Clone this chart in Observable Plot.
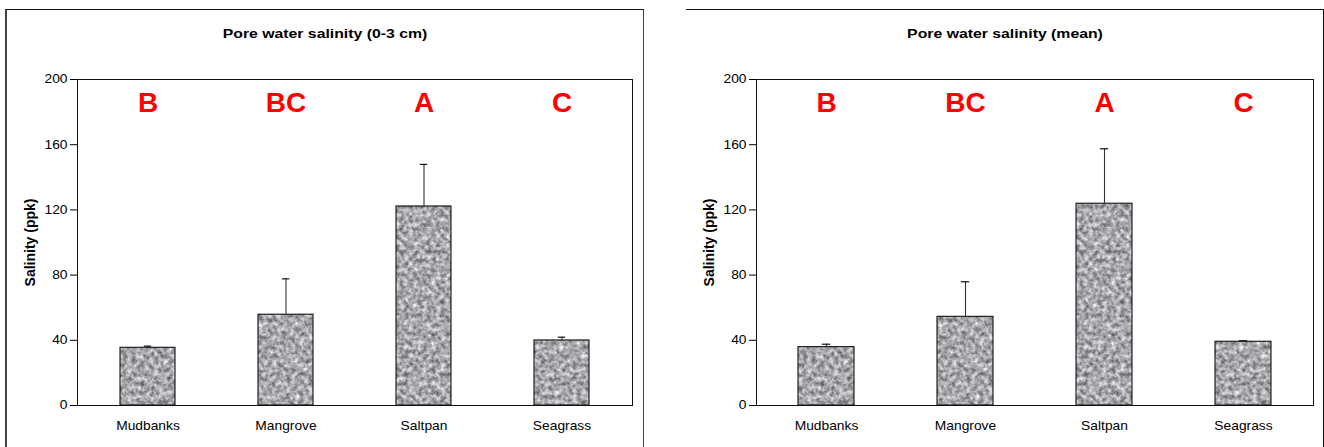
<!DOCTYPE html>
<html>
<head>
<meta charset="utf-8">
<script src="https://cdn.jsdelivr.net/npm/d3@7"></script>
<script src="https://cdn.jsdelivr.net/npm/@observablehq/plot@0.6"></script>
<style>
  html, body { margin: 0; padding: 0; background: #fff; }
  #page { position: relative; width: 1324px; height: 447px; overflow: hidden; background: #fff; font-family: "Liberation Sans", Arial, sans-serif; }
  .panel { position: absolute; top: 9px; height: 520px; box-sizing: border-box; }
  #panelL { left: 5px; width: 638.5px; border-top: 1.5px solid #111; border-left: 2px solid #444; border-right: 1.5px solid #444; }
  #panelR { left: 686px; width: 637.5px; border-top: 1.5px solid #111; border-right: 1.5px solid #111; }
  .title { position: absolute; width: 400px; text-align: center; font-weight: bold; font-size: 13.5px; line-height: 16px; color: #000; transform: scaleX(1.17); transform-origin: center; top: 26px; }
  .chart { position: absolute; top: 0; }
</style>
</head>
<body>
<svg width="0" height="0" style="position:absolute">
  <defs>
    <filter id="noiseF" filterUnits="userSpaceOnUse" x="0" y="0" width="700" height="450" color-interpolation-filters="sRGB">
      <feTurbulence type="fractalNoise" baseFrequency="0.22" numOctaves="3" seed="7"/>
      <feColorMatrix type="matrix" values="0.85 0 0 0 0.23  0.85 0 0 0 0.23  0.85 0 0 0 0.25  0 0 0 0 1"/>
    </filter>
    <pattern id="tex" patternUnits="userSpaceOnUse" x="0" y="0" width="700" height="450">
      <rect width="700" height="450" fill="#a5a5a8" filter="url(#noiseF)"/>
    </pattern>
  </defs>
</svg>
<div id="page">
  <div class="panel" id="panelL"></div>
  <div class="panel" id="panelR"></div>
  <div class="title" id="titleL" style="left:124.7px">Pore water salinity (0-3 cm)</div>
  <div class="title" id="titleR" style="left:804.5px">Pore water salinity (mean)</div>
  <div class="chart" id="chartL" style="left:0px"></div>
  <div class="chart" id="chartR" style="left:680px"></div>
</div>
<script>
const sites = ["Mudbanks", "Mangrove", "Saltpan", "Seagrass"];
const letters = ["B", "BC", "A", "C"];
const surfaceMean = [35.4, 55.7, 122.1, 39.9];
const surfaceErr = [1.0, 22.0, 25.8, 2.0];
const meanMean = [35.8, 54.4, 123.8, 39.1];
const meanErr = [1.8, 21.5, 33.7, 0.6];
const yTicks = [0, 40, 80, 120, 160, 200];
const yLabel = ["Salinity (ppk)"];

function panel(means, errs, width, marginLeft, marginRight) {
  const data = sites.map((s, i) => ({site: s, letter: letters[i], mean: means[i], top: means[i] + errs[i]}));
  const svg = Plot.plot({
    width, height: 447,
    marginLeft, marginRight, marginTop: 79, marginBottom: 42,
    style: {background: "transparent", fontFamily: "'Liberation Sans', Arial, sans-serif", fontSize: "12px", color: "#000", overflow: "visible"},
    x: {domain: sites, paddingInner: 0.6, paddingOuter: 0.3, label: null, tickSize: 0, tickPadding: 15.5},
    y: {domain: [0, 200], ticks: yTicks, tickSize: 7, tickPadding: 3, label: null},
    marks: [
      Plot.barY(data, {x: "site", y: "mean", fill: "url(#tex)", stroke: "#111", strokeWidth: 1.1}),
      Plot.ruleX(data, {x: "site", y1: "mean", y2: "top", stroke: "#333", strokeWidth: 1.1}),
      Plot.tickY(data, {x: "site", y: "top", stroke: "#111", strokeWidth: 1.2, insetLeft: 23.8, insetRight: 23.8}),
      Plot.text(data, {x: "site", text: "letter", frameAnchor: "top", lineAnchor: "middle", dy: 23.5, fill: "#ff0000", fontSize: 28, fontWeight: "bold", fontFamily: "'Liberation Sans', Arial, sans-serif"}),
      Plot.text(yLabel, {text: d => d, frameAnchor: "left", textAnchor: "middle", lineAnchor: "middle", rotate: -90, dx: -47, fontWeight: "bold", fontSize: 14}),
      Plot.frame({stroke: "#111"})
    ]
  });
  svg.querySelectorAll('g[aria-label="y-axis tick label"] text, g[aria-label="x-axis tick label"] text').forEach(t => {
    const tr = t.getAttribute("transform");
    if (tr) t.setAttribute("transform", tr + " scale(1.15,1)");
    else {
      const x = +t.getAttribute("x") || 0, y = +t.getAttribute("y") || 0;
      t.setAttribute("transform", `translate(${x},${y}) scale(1.15,1) translate(${-x},${-y})`);
    }
  });
  return svg;
}

document.getElementById("chartL").append(panel(surfaceMean, surfaceErr, 662, 77, 30));
document.getElementById("chartR").append(panel(meanMean, meanErr, 644, 76, 11));
</script>
</body>
</html>
